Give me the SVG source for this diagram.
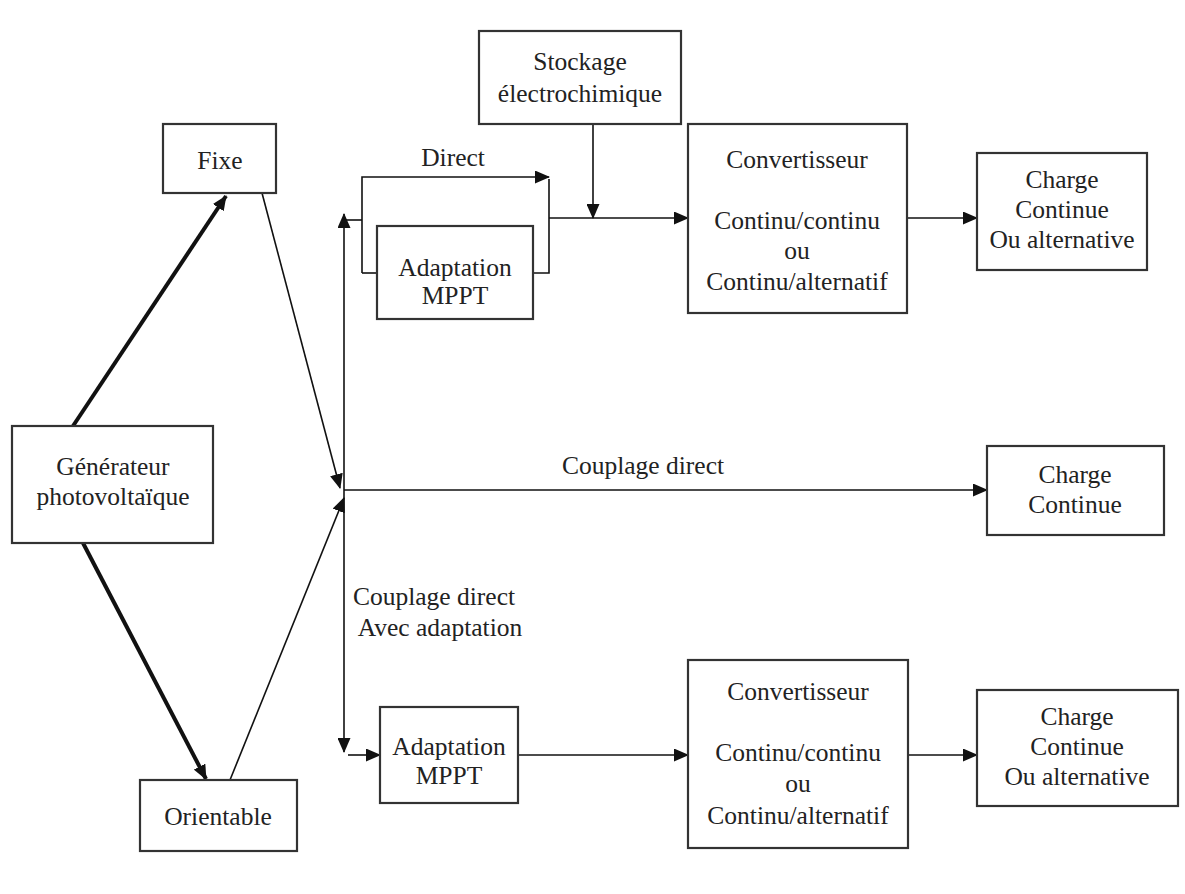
<svg xmlns="http://www.w3.org/2000/svg" width="1185" height="894" viewBox="0 0 1185 894">
<style>
.box{fill:#fff;stroke:#333;stroke-width:2.2}
.t{font-family:"Liberation Serif","Times New Roman",serif;font-size:25.5px;fill:#222;text-anchor:middle}
.c{fill:none;stroke:#111;stroke-width:1.6}
.b{fill:none;stroke:#111;stroke-width:4}
</style>
<defs>
<marker id="ah" markerUnits="userSpaceOnUse" markerWidth="15" markerHeight="13" refX="14" refY="6.5" orient="auto-start-reverse">
<path d="M0,0 L15,6.5 L0,13 Z" fill="#111"/>
</marker>
</defs>
<rect width="1185" height="894" fill="#fff"/>
<g id="connectors">
<line class="b" x1="73" y1="426" x2="226" y2="196" marker-end="url(#ah)"/>
<line class="b" x1="83" y1="543" x2="206" y2="779" marker-end="url(#ah)"/>
<line class="c" x1="262" y1="193" x2="340" y2="488" marker-end="url(#ah)"/>
<line class="c" x1="230" y1="780" x2="344" y2="498" marker-end="url(#ah)"/>
<line class="c" x1="344" y1="214" x2="344" y2="752" marker-start="url(#ah)" marker-end="url(#ah)"/>
<path class="c" d="M344,220 H362"/>
<path class="c" d="M362,273 V177 H549" marker-end="url(#ah)"/>
<path class="c" d="M362,273 H377"/>
<path class="c" d="M533,273 H549 V179"/>
<line class="c" x1="549" y1="218" x2="688" y2="218" marker-end="url(#ah)"/>
<line class="c" x1="593" y1="124" x2="593" y2="218" marker-end="url(#ah)"/>
<line class="c" x1="907" y1="218" x2="977" y2="218" marker-end="url(#ah)"/>
<line class="c" x1="344" y1="490" x2="987" y2="490" marker-end="url(#ah)"/>
<line class="c" x1="348" y1="755" x2="380" y2="755" marker-end="url(#ah)"/>
<line class="c" x1="518" y1="755" x2="688" y2="755" marker-end="url(#ah)"/>
<line class="c" x1="908" y1="755" x2="977" y2="755" marker-end="url(#ah)"/>
<text class="t" x="453" y="166">Direct</text>
<text class="t" x="643" y="474">Couplage direct</text>
<text class="t" x="434" y="605">Couplage direct</text>
<text class="t" x="440" y="636">Avec adaptation</text>
</g>
<g id="fixe"><rect class="box" x="163" y="124" width="113" height="69"/><text class="t" x="220" y="169">Fixe</text></g>
<g id="generateur"><rect class="box" x="12" y="426" width="201" height="117"/><text class="t" x="113" y="475">Générateur</text><text class="t" x="113" y="505">photovoltaïque</text></g>
<g id="orientable"><rect class="box" x="140" y="780" width="157" height="71"/><text class="t" x="218" y="825">Orientable</text></g>
<g id="stockage"><rect class="box" x="479" y="31" width="202" height="93"/><text class="t" x="580" y="70">Stockage</text><text class="t" x="580" y="102">électrochimique</text></g>
<g id="adaptation1"><rect class="box" x="377" y="226" width="156" height="93"/><text class="t" x="455" y="276">Adaptation</text><text class="t" x="455" y="304">MPPT</text></g>
<g id="convertisseur1"><rect class="box" x="688" y="124" width="219" height="189"/><text class="t" x="797" y="168">Convertisseur</text><text class="t" x="797" y="229">Continu/continu</text><text class="t" x="797" y="259">ou</text><text class="t" x="797" y="290">Continu/alternatif</text></g>
<g id="charge1"><rect class="box" x="977" y="153" width="170" height="117"/><text class="t" x="1062" y="188">Charge</text><text class="t" x="1062" y="218">Continue</text><text class="t" x="1062" y="248">Ou alternative</text></g>
<g id="charge2"><rect class="box" x="987" y="446" width="177" height="89"/><text class="t" x="1075" y="483">Charge</text><text class="t" x="1075" y="513">Continue</text></g>
<g id="adaptation2"><rect class="box" x="380" y="707" width="138" height="96"/><text class="t" x="449" y="755">Adaptation</text><text class="t" x="449" y="784">MPPT</text></g>
<g id="convertisseur2"><rect class="box" x="688" y="660" width="220" height="188"/><text class="t" x="798" y="700">Convertisseur</text><text class="t" x="798" y="761">Continu/continu</text><text class="t" x="798" y="792">ou</text><text class="t" x="798" y="824">Continu/alternatif</text></g>
<g id="charge3"><rect class="box" x="977" y="690" width="201" height="116"/><text class="t" x="1077" y="725">Charge</text><text class="t" x="1077" y="755">Continue</text><text class="t" x="1077" y="785">Ou alternative</text></g>
</svg>
